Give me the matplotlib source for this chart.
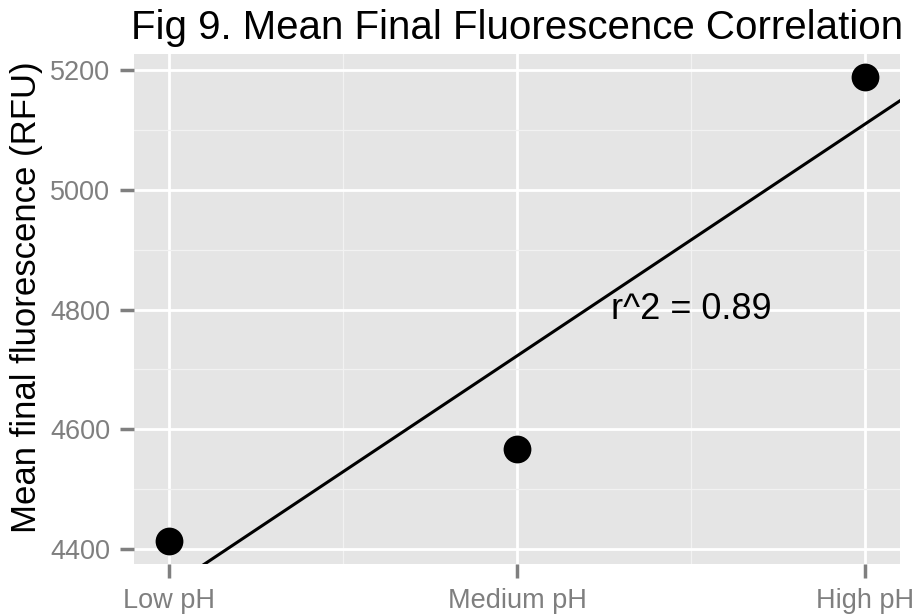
import numpy as np
import matplotlib.pyplot as plt
from matplotlib.ticker import MultipleLocator

# Mean final fluorescence per pH group
groups = ['Low pH', 'Medium pH', 'High pH']
group_pos = [1, 2, 3]
mean_rfu = [4413, 4567, 5188]
y_ticks = [4400, 4600, 4800, 5000, 5200]
r2_label = 'r^2 = 0.89'

plt.rcParams['font.family'] = ['Liberation Sans', 'DejaVu Sans']

fig = plt.figure(figsize=(9.17, 6.14), dpi=100)
ax = fig.add_axes([134 / 917, 1 - 564 / 614, (900 - 134) / 917, (564 - 54) / 614])
ax.set_facecolor('#E5E5E5')

# Gridlines, ggplot2 style
ax.set_xticks(group_pos)
ax.set_xticklabels(groups)
ax.xaxis.set_minor_locator(MultipleLocator(0.5))
ax.set_yticks(y_ticks)
ax.yaxis.set_minor_locator(MultipleLocator(100))
ax.grid(which='major', color='white', linewidth=2.0)
ax.grid(which='minor', color='#F2F2F2', linewidth=0.9)
ax.set_axisbelow(True)
for s in ax.spines.values():
	s.set_visible(False)

# Linear fit across the groups
slope, intercept = np.polyfit(group_pos, mean_rfu, 1)
xs = np.array([0.9, 3.1])
ax.plot(xs, slope * xs + intercept, color='black', linewidth=2.2, zorder=3)
ax.scatter(group_pos, mean_rfu, s=400, color='black', zorder=4, linewidths=0)

ax.text(2.5, 4800, r2_label, fontsize=26, ha='center', va='center', zorder=5)

ax.set_xlim(0.9, 3.1)
ax.set_ylim(4375, 5227)

ax.tick_params(which='major', colors='#7F7F7F', labelcolor='#7F7F7F',
	labelsize=19.5, length=10, width=2.5, pad=7)
ax.tick_params(which='minor', length=0)

ax.set_ylabel('Mean final fluorescence (RFU)', fontsize=25)
ax.yaxis.set_label_coords(-0.119, 0.523)
ax.set_title('Fig 9. Mean Final Fluorescence Correlation', fontsize=29, pad=11)

fig.savefig('out.png', dpi=100)
